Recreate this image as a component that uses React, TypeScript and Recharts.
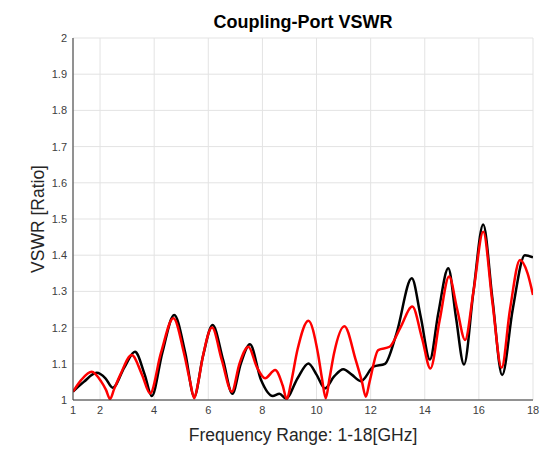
import { LineChart, Line, XAxis, YAxis, CartesianGrid } from "recharts";

const blackFreq = [
  1.0, 1.4, 1.875, 2.2, 2.47, 2.9, 3.29, 3.65, 3.91, 4.3, 4.74, 5.15, 5.48,
  5.8, 6.16, 6.55, 6.89, 7.2, 7.54, 7.95, 8.38, 8.63, 8.87, 9.3, 9.7, 10.0,
  10.31, 10.65, 10.99, 11.3, 11.64, 12.1, 12.53, 12.96, 13.52, 13.85, 14.19,
  14.5, 14.87, 15.15, 15.45, 15.8, 16.16, 16.5, 16.86, 17.25, 17.7, 18.0,
];
const blackVswr = [
  1.023, 1.05, 1.075, 1.06, 1.034, 1.09, 1.133, 1.07, 1.011, 1.13, 1.235, 1.13,
  1.009, 1.12, 1.207, 1.11, 1.017, 1.1, 1.154, 1.055, 1.011, 1.017, 1.004,
  1.06, 1.101, 1.07, 1.032, 1.065, 1.085, 1.07, 1.052, 1.092, 1.1, 1.185,
  1.336, 1.23, 1.112, 1.24, 1.364, 1.23, 1.098, 1.3, 1.485, 1.28, 1.069, 1.25,
  1.4, 1.394,
];

const redFreq = [
  1.0, 1.3, 1.69, 2.05, 2.22, 2.37, 2.52, 2.75, 3.17, 3.55, 3.85, 4.25, 4.71,
  5.1, 5.33, 5.48, 5.63, 5.8, 6.14, 6.5, 6.87, 7.15, 7.48, 7.8, 8.1, 8.47,
  8.75, 8.9, 9.05, 9.3, 9.7, 10.05, 10.2, 10.34, 10.48, 10.65, 11.03, 11.45,
  11.68, 11.82, 11.96, 12.28, 12.7, 13.1, 13.54, 13.9, 14.21, 14.55, 14.9,
  15.2, 15.49, 15.8, 16.16, 16.5, 16.84, 17.15, 17.52, 17.8, 18.0,
];
const redVswr = [
  1.023, 1.055, 1.078, 1.05, 1.028, 1.003, 1.03, 1.07, 1.124, 1.07, 1.018,
  1.13, 1.226, 1.13, 1.05, 1.005, 1.05, 1.12, 1.2, 1.11, 1.023, 1.1, 1.147,
  1.09, 1.06, 1.083, 1.04, 1.002, 1.045, 1.14, 1.219, 1.13, 1.06, 1.005,
  1.06, 1.13, 1.204, 1.11, 1.05, 1.009, 1.05, 1.138, 1.147, 1.2, 1.258, 1.17,
  1.087, 1.22, 1.341, 1.25, 1.166, 1.3, 1.465, 1.27, 1.089, 1.25, 1.387, 1.35,
  1.29,
];

const xTicks = [1, 2, 4, 6, 8, 10, 12, 14, 16, 18];
const yTicks = [1, 1.1, 1.2, 1.3, 1.4, 1.5, 1.6, 1.7, 1.8, 1.9, 2];

const blackData = blackFreq.map((f, i) => ({ f, v: blackVswr[i] }));
const redData = redFreq.map((f, i) => ({ f, v: redVswr[i] }));

const font = "'Liberation Sans', Arial, sans-serif";
const axisColor = "#333333";
const tickStyle = { fontSize: 11, fill: "#404040", fontFamily: font };

export default function App() {
  return (
    <div
      style={{
        position: "absolute",
        left: 0,
        top: 0,
        width: 540,
        height: 450,
        background: "#fff",
        fontFamily: font,
      }}
    >
      <div
        style={{
          position: "absolute",
          left: 73,
          width: 460,
          top: 12,
          textAlign: "center",
          fontWeight: "bold",
          fontSize: 18,
          color: "#000",
        }}
      >
        Coupling-Port VSWR
      </div>
      <LineChart
        width={540}
        height={450}
        margin={{ top: 38, right: 7, bottom: 0, left: 0 }}
      >
        <CartesianGrid stroke="#e3e3e3" />
        <XAxis
          type="number"
          dataKey="f"
          domain={[1, 18]}
          ticks={xTicks}
          allowDataOverflow
          height={50}
          tickLine={false}
          tickSize={0}
          tickMargin={6}
          tick={tickStyle}
          axisLine={{ stroke: axisColor }}
          label={{
            value: "Frequency Range: 1-18[GHz]",
            position: "insideBottom",
            offset: 9,
            style: { fontSize: 17.5, fill: "#262626", fontFamily: font },
          }}
        />
        <XAxis
          xAxisId="top"
          orientation="top"
          type="number"
          domain={[1, 18]}
          height={0}
          tick={false}
          tickLine={false}
          axisLine={{ stroke: axisColor }}
        />
        <YAxis
          type="number"
          domain={[1, 2]}
          ticks={yTicks}
          allowDataOverflow
          width={73}
          tickLine={false}
          tickSize={0}
          tickMargin={6}
          tick={tickStyle}
          axisLine={{ stroke: axisColor }}
          label={{
            value: "VSWR [Ratio]",
            angle: -90,
            position: "insideLeft",
            offset: 38,
            style: {
              textAnchor: "middle",
              fontSize: 17.5,
              fill: "#262626",
              fontFamily: font,
            },
          }}
        />
        <YAxis
          yAxisId="right"
          orientation="right"
          domain={[1, 2]}
          width={0}
          tick={false}
          tickLine={false}
          axisLine={{ stroke: axisColor }}
        />
        <Line
          data={blackData}
          dataKey="v"
          type="monotone"
          stroke="#000000"
          strokeWidth={2.5}
          dot={false}
          isAnimationActive={false}
        />
        <Line
          data={redData}
          dataKey="v"
          type="monotone"
          stroke="#ff0000"
          strokeWidth={2.5}
          dot={false}
          isAnimationActive={false}
        />
      </LineChart>
    </div>
  );
}
